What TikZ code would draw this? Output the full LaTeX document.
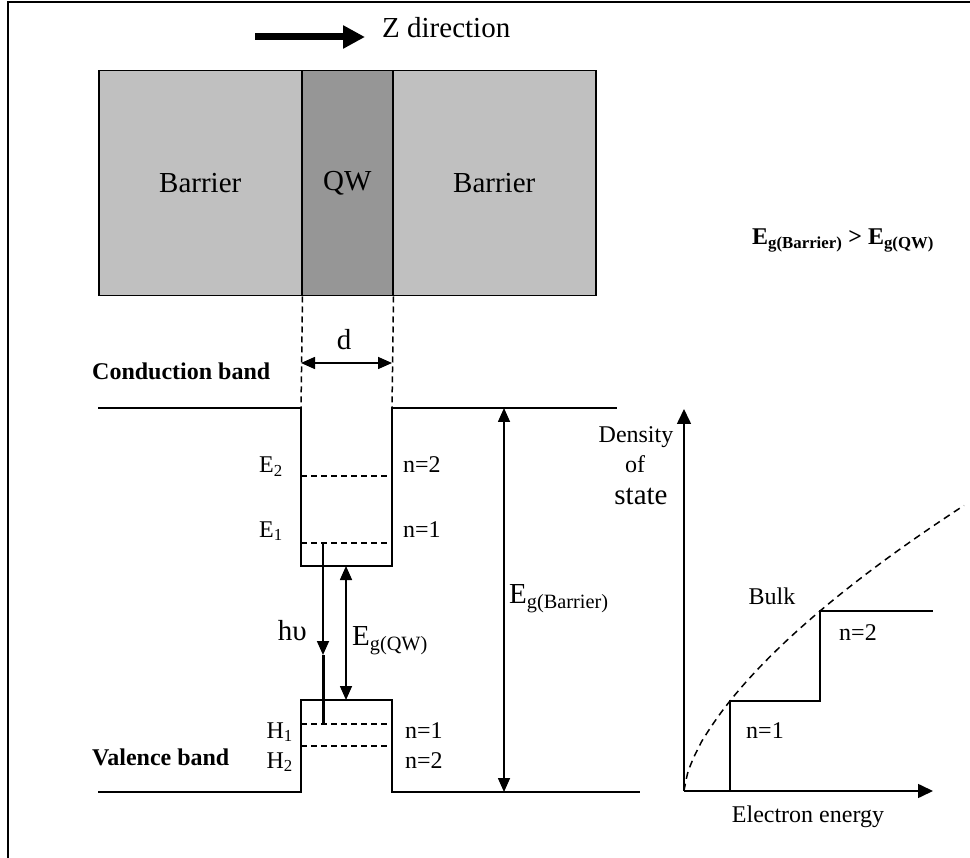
\documentclass[tikz,border=0pt]{standalone}
\usepackage{fontspec}
\setmainfont{Liberation Serif}
\usetikzlibrary{arrows.meta}
\definecolor{lgray}{RGB}{192,192,192}
\definecolor{dgray}{RGB}{150,150,150}
\begin{document}
\begin{tikzpicture}[x=1pt,y=-1pt,
  band/.style={line width=1.8pt},
  dsh/.style={line width=1.5pt, dash pattern=on 6pt off 4pt},
  tip/.style={-{Triangle[length=14pt,width=12pt]}},
  dtip/.style={{Triangle[length=14pt,width=12pt]}-{Triangle[length=14pt,width=12pt]}},
  blk/.style={draw, line width=1.5pt, minimum height=225pt, anchor=north west, inner sep=0pt, font=\fontsize{29}{32}\selectfont},
  big/.style={inner sep=0pt, font=\fontsize{29}{32}\selectfont},
  med/.style={inner sep=0pt, font=\fontsize{24}{28}\selectfont},
  bmed/.style={inner sep=0pt, font=\fontsize{24}{28}\selectfont\bfseries},
]
\useasboundingbox (0,0) rectangle (970,858);
% frame
\draw[line width=2pt] (8.3,858) -- (8.3,2.5) -- (970,2.5);

% Z direction
\node[big, anchor=base west] (ztxt) at (382,38) {Z direction};
\coordinate (za) at (255,37);
\coordinate (zb) at (365,37);
\draw[line width=7pt, -{Triangle[length=22pt,width=22pt]}] (za) -- (zb);

% layers
\node[blk, fill=lgray, minimum width=203pt] (bl) at (98,70) {Barrier};
\node[blk, fill=dgray, minimum width=91pt] (qw) at (301,70) {QW};
\node[blk, fill=lgray, minimum width=203pt] (br) at (392,70) {Barrier};

\node[bmed, anchor=base west] (cmp) at (752,245) {E\textsubscript{g(Barrier)} > E\textsubscript{g(QW)}};

% conduction band
\coordinate (cbL) at (98,408);
\coordinate (cw1) at (301,408);
\coordinate (cw2) at (301,566);
\coordinate (cw3) at (392,566);
\coordinate (cw4) at (392,408);
\coordinate (cbR) at (617,408);
\draw[band] (cbL) -- (cw1) -- (cw2) -- (cw3) -- (cw4) -- (cbR);

% valence band
\coordinate (vbL) at (98,792);
\coordinate (vw1) at (301,792);
\coordinate (vw2) at (301,700);
\coordinate (vw3) at (392,700);
\coordinate (vw4) at (392,792);
\coordinate (vbR) at (640,792);
\draw[band] (vbL) -- (vw1) -- (vw2) -- (vw3) -- (vw4) -- (vbR);

% dashed projections
\draw[dsh] (bl.south east) -- (cw1);
\draw[dsh] (qw.south east) -- (cw4);

% d
\coordinate (dl) at (301,363);
\coordinate (dr) at (392,363);
\draw[line width=1.6pt, dtip] (dl) -- (dr);
\node[big, anchor=base] (dlab) at (344,350) {d};

\node[bmed, anchor=base west] (cbt) at (92,380) {Conduction band};
\node[bmed, anchor=base west] (vbt) at (92,765) {Valence band};

% levels
\coordinate (e2l) at (301,476); \coordinate (e2r) at (392,476);
\coordinate (e1l) at (301,543); \coordinate (e1r) at (392,543);
\coordinate (h1l) at (301,724); \coordinate (h1r) at (392,724);
\coordinate (h2l) at (301,746); \coordinate (h2r) at (392,746);
\draw[dsh] (e2l) -- (e2r);
\draw[dsh] (e1l) -- (e1r);
\draw[dsh] (h1l) -- (h1r);
\draw[dsh] (h2l) -- (h2r);

\node[med, anchor=base east] (e2t) at (283,473) {E\textsubscript{2}};
\node[med, anchor=base east] (e1t) at (283,537) {E\textsubscript{1}};
\node[med, anchor=base west] (n2c) at (403,473) {n=2};
\node[med, anchor=base west] (n1c) at (403,537) {n=1};
\node[med, anchor=base east] (h1t) at (293,738) {H\textsubscript{1}};
\node[med, anchor=base east] (h2t) at (293,768) {H\textsubscript{2}};
\node[med, anchor=base west] (n1v) at (405,738) {n=1};
\node[med, anchor=base west] (n2v) at (405,768) {n=2};

% h nu
\coordinate (hvtop) at (323,543);
\coordinate (hvtip) at (323,655);
\coordinate (hvbot) at (323,724);
\draw[line width=1.8pt, tip] (hvtop) -- (hvtip);
\draw[line width=3pt] (hvtip) -- (hvbot);
\node[big, anchor=base east] (hvt) at (307,640) {hυ};

% Eg(QW)
\coordinate (gqt) at (346,566);
\coordinate (gqb) at (346,700);
\draw[line width=1.6pt, dtip] (gqt) -- (gqb);
\node[big, anchor=base west] (gqlab) at (352,645) {E\textsubscript{g(QW)}};

% Eg(Barrier)
\coordinate (gbt) at (504,408);
\coordinate (gbb) at (504,792);
\draw[line width=1.6pt, dtip] (gbt) -- (gbb);
\node[big, anchor=base west] (gblab) at (509,603) {E\textsubscript{g(Barrier)}};

% DOS
\coordinate (O) at (684,791);
\coordinate (Yt) at (684,409);
\coordinate (Xt) at (933,791);
\draw[line width=1.6pt, -{Triangle[length=15pt,width=14pt]}] (O) -- (Yt);
\draw[line width=1.6pt, -{Triangle[length=15pt,width=14pt]}] (O) -- (Xt);
\coordinate (s1b) at (730,791);
\coordinate (s1t) at (730,701);
\coordinate (s2b) at (820,701);
\coordinate (s2t) at (820,611);
\coordinate (s2e) at (933,611);
\draw[band] (s1b) -- (s1t) -- (s2b) -- (s2t) -- (s2e);
\draw[line width=1.5pt, dash pattern=on 7pt off 5pt]
  plot[domain=0.01:280, samples=80, smooth] ({684+\x},{791-180*pow(\x/136,0.639)});

\node[med, anchor=base] (dens) at (636,443) {Density};
\node[med, anchor=base] (of) at (635,473) {of};
\node[big, anchor=base] (st) at (641,505) {state};
\node[med, anchor=base] (bulk) at (772,604) {Bulk};
\node[med, anchor=base] (dn2) at (858,640) {n=2};
\node[med, anchor=base] (dn1) at (765,738) {n=1};
\node[med, anchor=base] (ee) at (808,822) {Electron energy};
\end{tikzpicture}
\end{document}
